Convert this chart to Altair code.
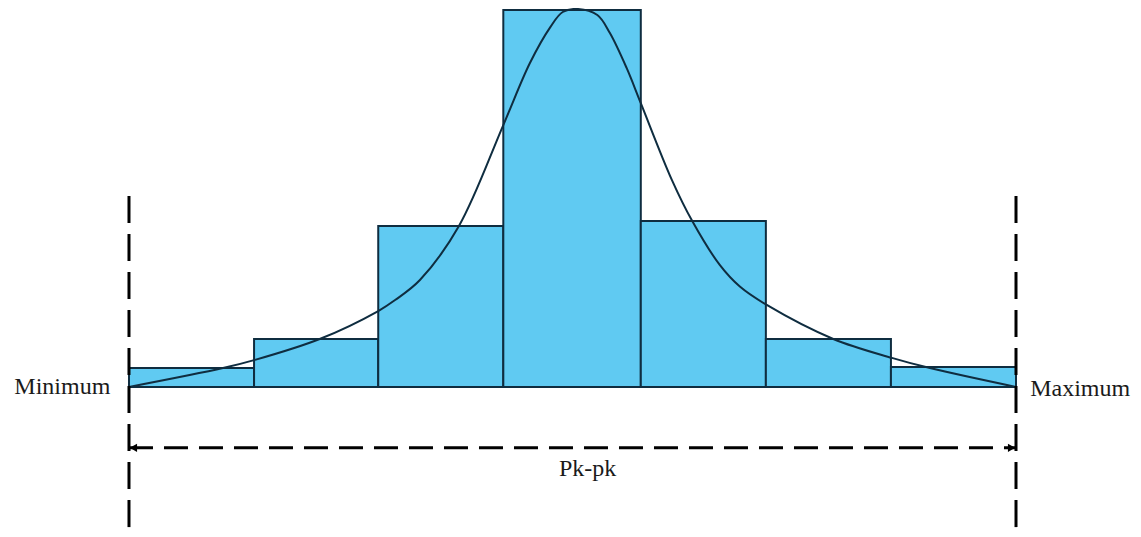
import altair as alt
import pandas as pd

# ---- data (arbitrary units: Minimum = 0, Maximum = 100, peak = 100) ----
bin_edges = [0.0, 14.1, 28.1, 42.2, 57.7, 71.8, 85.9, 100.0]
bin_counts = [5.0, 12.7, 42.6, 99.7, 43.9, 12.7, 5.3]

curve_x = [0.0, 10.6, 14.1, 21.5, 28.1, 30.0, 32.8, 37.2, 42.2, 45.2, 47.5, 48.9,
           50.6, 52.8, 54.2, 56.1, 57.7, 61.2, 63.5, 66.6, 68.9, 71.9, 79.4, 86.0,
           90.3, 100.0]
curve_y = [0.0, 5.0, 7.1, 12.7, 20.1, 23.0, 28.3, 42.6, 69.3, 85.7, 95.2, 99.2,
           100.0, 98.4, 93.7, 84.4, 75.1, 54.8, 43.9, 32.3, 26.5, 21.7, 12.7, 7.7,
           5.0, 0.0]

limit_x = [0.0, 100.0]
limit_top = 50.5
span_y = -16.1
labels = ["Minimum", "Maximum", "Pk-pk"]
label_x = [-2.1, 101.6, 51.7]
label_y = [0.0, -0.6, -21.6]
label_align = ["right", "left", "center"]

X_DOMAIN = [-13.64, 113.19]
Y_DOMAIN = [-37.57, 100.26]

FILL = "#60CAF2"
EDGE = "#0F2D40"

xs = alt.Scale(domain=X_DOMAIN, nice=False, zero=False)
ys = alt.Scale(domain=Y_DOMAIN, nice=False, zero=False)

bars_df = pd.DataFrame({
    "x0": bin_edges[:-1],
    "x1": bin_edges[1:],
    "count": bin_counts,
    "base": [0.0] * len(bin_counts),
})
curve_df = pd.DataFrame({"x": curve_x, "y": curve_y})
limits_df = pd.DataFrame({"x": limit_x, "top": [limit_top] * 2, "bottom": [Y_DOMAIN[0]] * 2})
span_df = pd.DataFrame({"x0": [limit_x[0]], "x1": [limit_x[1]], "y": [span_y]})
heads_df = pd.DataFrame({
    "x": [limit_x[0] + 0.5, limit_x[1] - 0.5],
    "y": [span_y, span_y],
    "shape": ["triangle-left", "triangle-right"],
})
text_df = pd.DataFrame({"label": labels, "x": label_x, "y": label_y, "align": label_align})

bars = alt.Chart(bars_df).mark_rect(fill=FILL, stroke=EDGE, strokeWidth=2).encode(
    x=alt.X("x0:Q", scale=xs, axis=None),
    x2="x1:Q",
    y=alt.Y("count:Q", scale=ys, axis=None),
    y2="base:Q",
)

curve = alt.Chart(curve_df).mark_line(color=EDGE, strokeWidth=2, interpolate="catmull-rom").encode(
    x=alt.X("x:Q", scale=xs, axis=None),
    y=alt.Y("y:Q", scale=ys, axis=None),
)

limits = alt.Chart(limits_df).mark_rule(color="black", strokeWidth=3, strokeDash=[27, 11]).encode(
    x=alt.X("x:Q", scale=xs, axis=None),
    y=alt.Y("top:Q", scale=ys, axis=None),
    y2="bottom:Q",
)

span = alt.Chart(span_df).mark_rule(color="black", strokeWidth=3, strokeDash=[24, 11]).encode(
    x=alt.X("x0:Q", scale=xs, axis=None),
    x2="x1:Q",
    y=alt.Y("y:Q", scale=ys, axis=None),
)

heads = alt.Chart(heads_df).mark_point(filled=True, color="black", size=70, opacity=1).encode(
    x=alt.X("x:Q", scale=xs, axis=None),
    y=alt.Y("y:Q", scale=ys, axis=None),
    shape=alt.Shape("shape:N", scale=None, legend=None),
)

texts = []
for lab, lx, ly, al in zip(labels, label_x, label_y, label_align):
    sub = text_df[text_df["label"] == lab]
    texts.append(
        alt.Chart(sub).mark_text(
            font="Liberation Serif", fontSize=24, color="#1a1a1a", align=al, baseline="middle"
        ).encode(
            x=alt.X("x:Q", scale=xs, axis=None),
            y=alt.Y("y:Q", scale=ys, axis=None),
            text="label:N",
        )
    )

chart = alt.layer(bars, curve, limits, span, heads, *texts).properties(
    width=1125,
    height=521,
    autosize=alt.AutoSizeParams(type="none"),
    padding=0,
).configure_view(stroke=None)

chart.save("out.html", embed_options={"renderer": "svg", "actions": False})
